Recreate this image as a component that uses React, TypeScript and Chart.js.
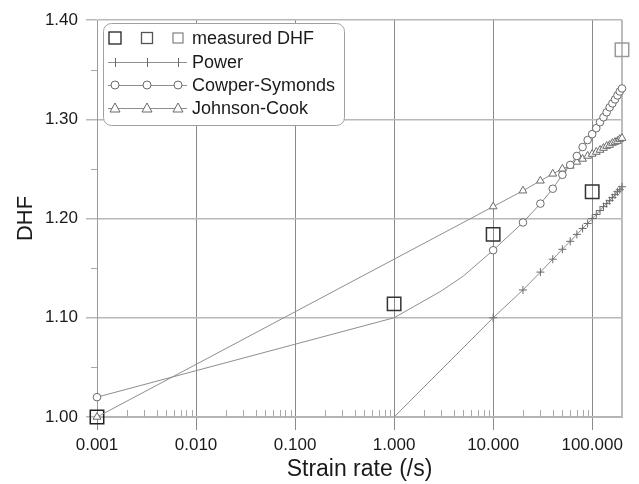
import { useEffect, useRef } from 'react';
import { Chart, registerables } from 'chart.js';
Chart.register(...registerables);

const measuredRates = [0.001, 1, 10, 100, 200];
const measuredDHF = [1.0, 1.114, 1.184, 1.227, 1.37];
const measuredColors = ['#222222', '#333333', '#333333', '#333333', '#9a9a9a'];

const powerRates = [1, 10, 20, 30, 40, 50, 60, 70, 80, 90, 100, 110, 120, 130, 140, 150, 160, 170, 180, 190, 200];
const powerDHF = [1.0, 1.1, 1.128, 1.146, 1.159, 1.169, 1.177, 1.184, 1.19, 1.195, 1.2, 1.204, 1.208, 1.212, 1.215, 1.218, 1.221, 1.224, 1.227, 1.229, 1.232];
const powerMarked = [false, true, true, true, true, true, true, true, true, true, true, true, true, true, true, true, true, true, true, true, true];

const csRates = [0.001, 1, 3, 5, 10, 20, 30, 40, 50, 60, 70, 80, 90, 100, 110, 120, 130, 140, 150, 160, 170, 180, 190, 200];
const csDHF = [1.02, 1.1, 1.127, 1.142, 1.168, 1.196, 1.215, 1.23, 1.244, 1.254, 1.263, 1.272, 1.279, 1.285, 1.291, 1.297, 1.302, 1.307, 1.312, 1.316, 1.32, 1.324, 1.328, 1.331];
const csMarked = [true, false, false, false, true, true, true, true, true, true, true, true, true, true, true, true, true, true, true, true, true, true, true, true];

const jcRates = [0.001, 10, 20, 30, 40, 50, 60, 70, 80, 90, 100, 110, 120, 130, 140, 150, 160, 170, 180, 190, 200];
const jcDHF = [1.0, 1.212, 1.228, 1.238, 1.245, 1.25, 1.253, 1.257, 1.26, 1.263, 1.265, 1.267, 1.269, 1.271, 1.273, 1.274, 1.276, 1.277, 1.278, 1.28, 1.281];

const xTickValues = [0.001, 0.01, 0.1, 1, 10, 100];
const yMinorTicks = [1.05, 1.15, 1.25, 1.35];
const legendLabels = ['measured DHF', 'Power', 'Cowper-Symonds', 'Johnson-Cook'];
const xTitle = 'Strain rate (/s)';
const yTitle = 'DHF';

const FONT = 'Arial, "Liberation Sans", sans-serif';
const LINE = '#8e8e8e';
const MARK = '#6a6a6a';

const toPoints = (xs: number[], ys: number[]) => xs.map((x, i) => ({ x, y: ys[i] }));

const decorPlugin = {
  id: 'decor',
  beforeDatasetsDraw(chart: any) {
    const { ctx, chartArea } = chart;
    const xs = chart.scales.x;
    const ys = chart.scales.y;
    ctx.save();
    ctx.strokeStyle = '#a8a8a8';
    ctx.lineWidth = 1;
    for (const d of xTickValues) {
      for (let m = 2; m <= 9; m++) {
        const v = d * m;
        if (v > 200) continue;
        const px = Math.round(xs.getPixelForValue(v)) + 0.5;
        ctx.beginPath();
        ctx.moveTo(px, chartArea.bottom);
        ctx.lineTo(px, chartArea.bottom - 7);
        ctx.stroke();
      }
    }
    for (const v of yMinorTicks) {
      const py = Math.round(ys.getPixelForValue(v)) + 0.5;
      ctx.beginPath();
      ctx.moveTo(chartArea.left - 6, py);
      ctx.lineTo(chartArea.left, py);
      ctx.stroke();
    }
    ctx.strokeStyle = '#bdbdbd';
    ctx.lineWidth = 2;
    ctx.beginPath();
    ctx.moveTo(chartArea.right, chartArea.top);
    ctx.lineTo(chartArea.right, chartArea.bottom);
    ctx.stroke();
    ctx.restore();
  },
  afterDraw(chart: any) {
    const { ctx, chartArea } = chart;
    const L = chartArea.left + 6;
    const T = chartArea.top + 3;
    const W = 241;
    const H = 102;
    ctx.save();
    ctx.beginPath();
    ctx.roundRect(L + 0.5, T + 0.5, W, H, 8);
    ctx.fillStyle = '#ffffff';
    ctx.fill();
    ctx.strokeStyle = '#a0a0a0';
    ctx.lineWidth = 1;
    ctx.stroke();

    const mx = [L + 12, L + 44, L + 75];
    const rows = [T + 15, T + 39, T + 62, T + 85];
    const textX = L + 89;
    ctx.font = `18px ${FONT}`;
    ctx.fillStyle = '#1a1a1a';
    ctx.textBaseline = 'middle';
    ctx.textAlign = 'left';
    legendLabels.forEach((lab, i) => ctx.fillText(lab, textX, rows[i] + 1));

    const sq = [[12, '#222'], [11, '#555'], [10, '#8a8a8a']] as [number, string][];
    sq.forEach(([s, c], i) => {
      ctx.strokeStyle = c;
      ctx.lineWidth = 1.3;
      ctx.strokeRect(mx[i] - s / 2, rows[0] - s / 2, s, s);
    });
    for (let r = 1; r < 4; r++) {
      ctx.strokeStyle = LINE;
      ctx.lineWidth = 1;
      ctx.beginPath();
      ctx.moveTo(L + 5, rows[r] + 0.5);
      ctx.lineTo(L + 84, rows[r] + 0.5);
      ctx.stroke();
    }
    ctx.strokeStyle = MARK;
    ctx.lineWidth = 1;
    mx.forEach((x) => {
      ctx.beginPath();
      ctx.moveTo(x + 0.5, rows[1] - 4);
      ctx.lineTo(x + 0.5, rows[1] + 5);
      ctx.stroke();
      ctx.beginPath();
      ctx.arc(x, rows[2], 4, 0, Math.PI * 2);
      ctx.fillStyle = '#fff';
      ctx.fill();
      ctx.stroke();
      ctx.beginPath();
      ctx.moveTo(x, rows[3] - 5);
      ctx.lineTo(x + 5, rows[3] + 4);
      ctx.lineTo(x - 5, rows[3] + 4);
      ctx.closePath();
      ctx.fill();
      ctx.stroke();
    });
    ctx.restore();
  },
};

export default function App() {
  const ref = useRef<HTMLCanvasElement>(null);
  useEffect(() => {
    if (!ref.current) return;
    Chart.defaults.font.family = FONT;
    Chart.defaults.color = '#1a1a1a';
    const chart = new Chart(ref.current, {
      type: 'scatter',
      data: {
        datasets: [
          {
            label: legendLabels[1],
            data: toPoints(powerRates, powerDHF),
            showLine: true,
            borderColor: LINE,
            borderWidth: 1,
            pointStyle: 'cross',
            pointRadius: powerMarked.map((m) => (m ? 4 : 0)),
            pointBorderColor: MARK,
            pointBorderWidth: 1,
            clip: false,
          },
          {
            label: legendLabels[2],
            data: toPoints(csRates, csDHF),
            showLine: true,
            borderColor: LINE,
            borderWidth: 1,
            pointStyle: 'circle',
            pointRadius: csMarked.map((m) => (m ? 3.8 : 0)),
            pointBackgroundColor: '#ffffff',
            pointBorderColor: MARK,
            pointBorderWidth: 1,
            clip: false,
          },
          {
            label: legendLabels[3],
            data: toPoints(jcRates, jcDHF),
            showLine: true,
            borderColor: LINE,
            borderWidth: 1,
            pointStyle: 'triangle',
            pointRadius: 4.5,
            pointBackgroundColor: '#ffffff',
            pointBorderColor: MARK,
            pointBorderWidth: 1,
            clip: false,
          },
          {
            label: legendLabels[0],
            data: toPoints(measuredRates, measuredDHF),
            showLine: false,
            pointStyle: 'rect',
            pointRadius: 9.5,
            pointBackgroundColor: 'rgba(0,0,0,0)',
            pointBorderColor: measuredColors,
            pointBorderWidth: 1.5,
            clip: false,
          },
        ],
      },
      options: {
        responsive: false,
        animation: false,
        layout: { padding: { top: 20, right: 17, left: 0, bottom: 0 } },
        plugins: { legend: { display: false }, tooltip: { enabled: false } },
        scales: {
          x: {
            type: 'logarithmic',
            min: 0.001,
            max: 200,
            afterBuildTicks: (scale: any) => {
              scale.ticks = xTickValues.map((v) => ({ value: v, major: true }));
            },
            afterFit: (scale: any) => {
              scale.height = 67;
            },
            ticks: {
              autoSkip: false,
              maxRotation: 0,
              font: { size: 17 },
              padding: 5,
              callback: (v: any) => Number(v).toFixed(3),
            },
            grid: { color: '#8a8a8a', lineWidth: 1, tickLength: 13, drawTicks: true },
            border: { display: true, color: '#b5b5b5', width: 2 },
            title: { display: true, text: xTitle, font: { size: 23 }, padding: { top: 0, bottom: 1 } },
          },
          y: {
            type: 'linear',
            min: 1.0,
            max: 1.4,
            afterFit: (scale: any) => {
              scale.width = 97;
            },
            ticks: {
              stepSize: 0.1,
              font: { size: 17 },
              padding: 8,
              callback: (v: any) => Number(v).toFixed(2),
            },
            grid: { color: '#b8b8b8', lineWidth: 1.5, tickLength: 11 },
            border: { display: true, color: '#9a9a9a', width: 1 },
            title: { display: true, text: yTitle, font: { size: 22 }, padding: { top: 13, bottom: 0 } },
          },
        },
      },
      plugins: [decorPlugin],
    } as any);
    return () => chart.destroy();
  }, []);
  return (
    <div style={{ position: 'fixed', left: 0, top: 0, width: 639, height: 484, background: '#fff' }}>
      <canvas ref={ref} width={639} height={484} style={{ width: 639, height: 484 }} />
    </div>
  );
}
